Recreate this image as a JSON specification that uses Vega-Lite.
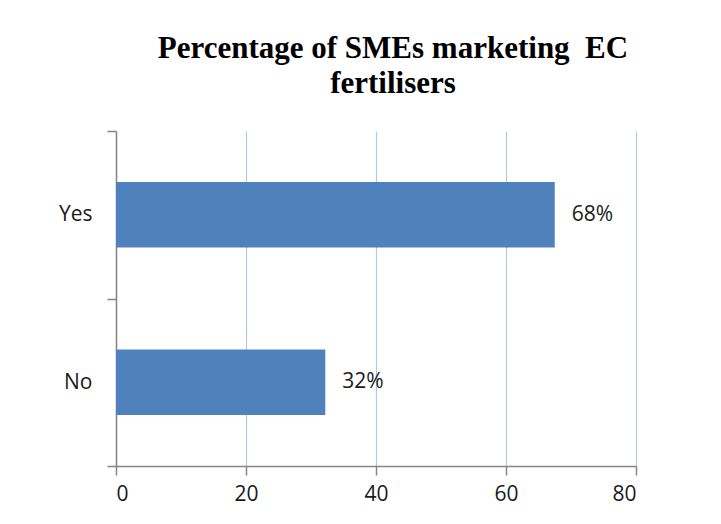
{
  "$schema": "https://vega.github.io/schema/vega-lite/v6.json",
  "width": 520,
  "height": 335,
  "autosize": {"type": "none"},
  "padding": {"left": 116, "top": 131, "right": 85, "bottom": 58},
  "background": "white",
  "title": {
    "text": ["Percentage of SMEs marketing\u00a0 EC", "fertilisers"],
    "font": "Liberation Serif",
    "fontSize": 31,
    "fontWeight": "bold",
    "color": "#000000",
    "lineHeight": 35,
    "anchor": "middle",
    "dx": 17,
    "offset": 20
  },
  "config": {
    "view": {"stroke": null},
    "axis": {
      "labelFont": "Open Sans",
      "labelFontSize": 21,
      "labelColor": "#1a1a1a",
      "domainColor": "#868686",
      "tickColor": "#868686",
      "title": null
    }
  },
  "data": {
    "values": [
      {"answer": "Yes", "percent": 67.5, "label": "68%"},
      {"answer": "No", "percent": 32.2, "label": "32%"}
    ]
  },
  "encoding": {
    "y": {
      "field": "answer",
      "type": "nominal",
      "sort": ["Yes", "No"],
      "scale": {"paddingInner": 0, "paddingOuter": 0},
      "axis": {
        "title": null,
        "tickBand": "extent",
        "tickSize": 9,
        "labelPadding": 15,
        "grid": false,
        "domainWidth": 1.5,
        "tickWidth": 1.5
      }
    },
    "x": {
      "field": "percent",
      "type": "quantitative",
      "scale": {"domain": [0, 80], "nice": false},
      "axis": {
        "title": null,
        "values": [0, 20, 40, 60, 80],
        "tickSize": 9,
        "labelPadding": 8,
        "grid": true,
        "gridColor": "#b9c7d9",
        "gridWidth": 1.2,
        "domainWidth": 1.5,
        "tickWidth": 1.5
      }
    }
  },
  "layer": [
    {
      "mark": {"type": "bar", "color": "#4f81bd", "height": {"band": 0.39}}
    },
    {
      "mark": {
        "type": "text",
        "align": "left",
        "baseline": "middle",
        "dx": 17,
        "font": "Open Sans",
        "fontSize": 21,
        "color": "#1a1a1a"
      },
      "encoding": {"text": {"field": "label"}}
    }
  ]
}
